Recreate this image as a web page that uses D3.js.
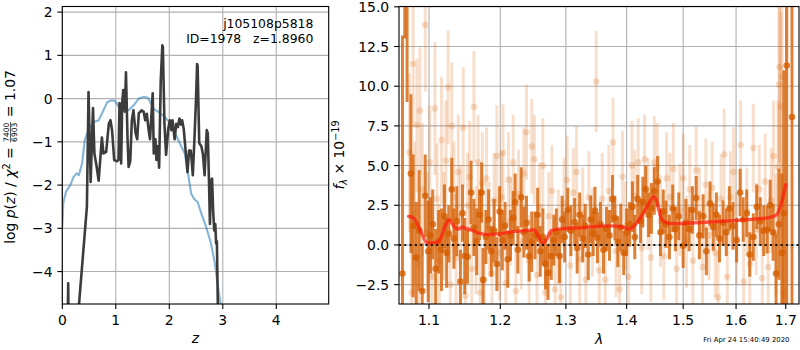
<!DOCTYPE html>
<html>
<head>
<meta charset="utf-8">
<script src="https://cdn.jsdelivr.net/npm/d3@7"></script>
<style>
  body { margin: 0; background: #fff; }
  text { font-family: "DejaVu Sans", sans-serif; }
</style>
</head>
<body>
<svg id="chart" width="800" height="350"></svg>
<script>
// ---- left panel: log p(z) (dark) and prior / chi2 curve (blue)
var pzZ = [0.095, 0.11, 0.125, 0.29, 0.46, 0.49, 0.53, 0.574, 0.60, 0.64, 0.68, 0.74, 0.77, 0.82, 0.87, 0.90, 0.93, 0.97, 1.02, 1.05, 1.07, 1.10, 1.12, 1.14, 1.17, 1.19, 1.22, 1.24, 1.27, 1.30, 1.33, 1.37, 1.40, 1.43, 1.48, 1.52, 1.55, 1.58, 1.61, 1.64, 1.66, 1.69, 1.71, 1.74, 1.76, 1.79, 1.81, 1.84, 1.87, 1.88, 1.91, 1.94, 1.98, 2.01, 2.04, 2.06, 2.10, 2.13, 2.16, 2.19, 2.22, 2.24, 2.27, 2.31, 2.34, 2.37, 2.40, 2.42, 2.44, 2.47, 2.50, 2.52, 2.53, 2.56, 2.60, 2.63, 2.66, 2.70, 2.72, 2.74, 2.76, 2.78, 2.80, 2.82, 2.84, 2.86, 2.875, 2.89, 2.91];
var pzLogP = [-6, -4.27, -6, -5.1, -2.5, 0.15, -1.93, -0.22, -1.27, -1.56, -1.9, -0.9, -1.27, -1.23, -0.58, -0.5, -0.73, -1.42, -1.45, -1.42, -0.1, -1.5, -0.1, 0.2, -0.3, 0.61, -0.94, -1.58, -1.45, -0.5, -0.27, -0.8, -0.94, -0.34, -0.27, -0.3, -0.5, -0.35, -0.69, -0.94, -0.5, 0.12, -1.27, -0.94, -1.42, -1.1, -1.6, 0.4, 1.23, 1.2, -0.6, -1.3, -0.7, -0.5, -0.73, -0.5, -0.94, -0.58, -0.66, -0.46, -0.6, -0.5, -0.7, -1.27, -1.7, -1.2, -1.2, -1.45, -1.77, -0.94, 0.0, 0.8, 0.75, -1.03, -1.1, -1.3, -1.77, -0.73, -0.8, -1.8, -2.9, -1.9, -1.85, -2.6, -3.05, -2.9, -3.35, -3.3, -5.0];
var chiZ = [0, 0.02, 0.07, 0.15, 0.21, 0.27, 0.31, 0.37, 0.42, 0.49, 0.59, 0.68, 0.77, 0.84, 0.93, 0.99, 1.05, 1.15, 1.24, 1.33, 1.43, 1.52, 1.60, 1.66, 1.72, 1.79, 1.91, 2.04, 2.16, 2.29, 2.35, 2.41, 2.47, 2.53, 2.60, 2.69, 2.78, 2.85, 2.91, 2.96, 2.98];
var chiLogP = [-2.97, -2.4, -2.15, -2.0, -1.81, -1.73, -1.77, -1.5, -0.96, -0.72, -0.54, -0.5, -0.27, -0.08, -0.04, -0.06, -0.18, -0.2, -0.27, -0.16, 0.0, 0.04, 0.02, -0.12, -0.25, -0.3, -0.42, -0.6, -0.94, -1.27, -1.73, -2.2, -2.33, -2.39, -2.66, -2.97, -3.35, -3.8, -4.35, -4.75, -5.0];
var zTicks = [0, 1, 2, 3, 4];
var logpTicks = [2, 1, 0, -1, -2, -3, -4];

// ---- right panel: spectrum, two sets of points with error bars, and model
var lamLight = [1.074, 1.077, 1.079, 1.081, 1.084, 1.086, 1.088, 1.091, 1.095, 1.098, 1.101, 1.104, 1.108, 1.111, 1.114, 1.117, 1.120, 1.123, 1.126, 1.129, 1.131, 1.134, 1.137, 1.140, 1.143, 1.147, 1.150, 1.153, 1.156, 1.159, 1.162, 1.165, 1.168, 1.171, 1.174, 1.177, 1.180, 1.184, 1.188, 1.191, 1.195, 1.199, 1.202, 1.204, 1.208, 1.212, 1.215, 1.219, 1.223, 1.227, 1.231, 1.235, 1.239, 1.243, 1.247, 1.251, 1.255, 1.259, 1.264, 1.268, 1.273, 1.278, 1.283, 1.288, 1.292, 1.297, 1.302, 1.307, 1.312, 1.317, 1.322, 1.327, 1.332, 1.337, 1.343, 1.349, 1.354, 1.359, 1.364, 1.370, 1.377, 1.382, 1.388, 1.393, 1.398, 1.403, 1.409, 1.414, 1.420, 1.426, 1.431, 1.437, 1.442, 1.448, 1.453, 1.459, 1.465, 1.470, 1.476, 1.482, 1.488, 1.494, 1.500, 1.506, 1.512, 1.518, 1.524, 1.530, 1.536, 1.542, 1.548, 1.554, 1.560, 1.565, 1.571, 1.577, 1.583, 1.589, 1.595, 1.601, 1.609, 1.615, 1.621, 1.627, 1.634, 1.640, 1.646, 1.652, 1.658, 1.664, 1.670, 1.675, 1.680, 1.684, 1.686, 1.687, 1.690, 1.692, 1.695];
var fluxLight = [5.8, -3.0, 11.4, 2.0, 7.55, -1.2, 8.46, 3.5, 13.87, 0.8, 5.2, -2.0, 8.6, 2.9, -1.0, 6.6, 1.2, 5.3, 9.93, -2.5, 7.5, 3.0, -0.8, 4.6, 1.8, 7.4, -3.2, 2.5, 4.3, -1.5, 8.7, 0.3, 5.2, -3.0, 3.9, -2.2, 4.2, 1.0, -1.8, 2.8, 5.6, -0.5, 3.0, 5.8, -2.4, 4.1, 1.5, 5.2, -2.9, 3.2, 0.2, 4.5, 7.1, -1.0, 6.2, 5.4, -1.9, 2.4, 5.0, -3.0, 1.8, 3.4, -2.8, 0.5, -3.3, 2.6, 4.1, -1.3, 3.3, 4.6, -0.9, 2.0, -2.2, 3.0, 0.8, 10.3, -1.6, 2.9, -2.2, 3.4, 6.45, -0.4, -2.8, 4.3, 1.2, -2.0, 5.0, 3.1, 5.2, -0.2, 5.4, 2.6, -0.8, 5.2, 4.9, 1.5, -0.7, 4.2, 3.0, 4.8, -1.5, 2.2, 4.2, 0.2, 3.5, -1.0, 4.7, 2.0, -1.4, 3.8, 0.6, 3.6, -0.5, -3.3, 2.9, 5.7, -2.0, 3.0, 4.6, 0.4, 6.3, -2.3, 2.1, -1.2, 6.1, 1.0, 3.5, -2.1, 4.0, -1.4, 2.8, 5.6, 0.7, 4.9, 10.1, 11.2, 8.7, 10.6, -3.0];
var errLight = [5, 4.5, 4, 4.5, 4.2, 4, 4, 4.2, 4.2, 3.8, 3.6, 3.8, 4.2, 3.5, 3.6, 4.0, 3.4, 3.8, 3.6, 3.5, 4.0, 3.5, 3.4, 3.6, 3.2, 3.8, 3.4, 3.3, 3.5, 3.2, 3.5, 3.4, 3.0, 3.3, 3.2, 3.1, 3.2, 3.0, 3.2, 3.0, 3.2, 3.0, 2.9, 3.1, 3.0, 3.0, 2.8, 3.0, 3.0, 2.8, 3.0, 2.9, 3.0, 2.9, 3.0, 2.8, 3.0, 2.8, 3.0, 2.9, 2.8, 2.9, 2.8, 3.0, 2.8, 2.9, 2.8, 2.9, 2.8, 2.9, 2.8, 2.9, 2.8, 2.9, 2.8, 3.2, 2.8, 2.9, 2.8, 2.9, 2.8, 2.9, 2.8, 2.9, 2.8, 2.9, 2.8, 2.9, 2.8, 2.9, 2.8, 2.9, 2.8, 2.9, 2.8, 2.9, 2.8, 2.9, 2.8, 2.9, 2.8, 2.9, 2.8, 2.9, 2.8, 2.9, 2.8, 2.9, 2.8, 2.9, 2.8, 2.9, 2.8, 2.9, 2.8, 2.9, 2.8, 2.9, 2.8, 2.9, 2.8, 2.9, 2.8, 2.9, 2.8, 2.9, 2.8, 3.0, 3.0, 3.1, 3.3, 3.5, 3.8, 4.2, 5, 6, 6, 8, 6];

var lamDark = [1.065, 1.068, 1.071, 1.076, 1.079, 1.083, 1.087, 1.091, 1.095, 1.099, 1.102, 1.105, 1.109, 1.113, 1.117, 1.121, 1.124, 1.127, 1.131, 1.134, 1.138, 1.143, 1.146, 1.149, 1.153, 1.158, 1.162, 1.166, 1.170, 1.173, 1.175, 1.179, 1.183, 1.187, 1.191, 1.195, 1.199, 1.203, 1.207, 1.211, 1.215, 1.219, 1.222, 1.226, 1.231, 1.235, 1.239, 1.243, 1.247, 1.252, 1.256, 1.260, 1.264, 1.268, 1.272, 1.277, 1.281, 1.285, 1.290, 1.294, 1.298, 1.303, 1.308, 1.314, 1.318, 1.322, 1.327, 1.331, 1.336, 1.340, 1.344, 1.347, 1.351, 1.356, 1.361, 1.366, 1.371, 1.376, 1.380, 1.385, 1.390, 1.395, 1.400, 1.405, 1.410, 1.414, 1.419, 1.424, 1.428, 1.433, 1.438, 1.443, 1.448, 1.454, 1.459, 1.464, 1.469, 1.475, 1.481, 1.486, 1.492, 1.500, 1.505, 1.511, 1.517, 1.524, 1.530, 1.537, 1.543, 1.550, 1.556, 1.562, 1.568, 1.575, 1.581, 1.587, 1.594, 1.601, 1.608, 1.614, 1.621, 1.627, 1.634, 1.641, 1.648, 1.655, 1.662, 1.668, 1.674, 1.680, 1.686, 1.692, 1.696, 1.702, 1.713];
var fluxDark = [-1.8, 20, 17, 4.5, 1.2, -0.8, 0.9, -2.9, 3.1, -0.4, 0.6, 1.3, -1.5, 0.2, -0.3, 1.8, -0.5, 0.7, 3.5, 0.4, 1.5, -2.3, 2.0, -0.7, -0.75, 3.3, 1.1, 0.2, 1.9, 3.3, -2.2, 0.5, 1.6, -0.4, 0.9, -1.2, 2.1, 0.3, 1.2, -0.9, 0.6, 1.7, 2.7, -0.3, 3.0, 0.8, 1.4, -0.7, 0.2, 0.6, 1.9, -0.4, 0.5, -1.2, -1.76, -0.7, 0.3, 0.8, -0.7, 1.6, 0.5, 2.2, 0.9, 1.45, -0.2, 1.9, 0.4, 1.2, -0.6, 1.6, 0.7, 2.16, 0.45, 1.3, -0.3, 1.0, 0.6, 2.9, 1.7, 0.2, 1.1, -0.5, 0.8, 1.3, 2.4, 0.5, 2.9, 1.5, 2.7, 3.5, 1.9, 2.3, 3.4, 4.0, 0.8, 2.1, 1.3, 0.5, 2.3, 1.0, 1.8, -0.05, 1.4, 1.0, 2.2, 2.95, 0.6, 1.8, -0.4, 2.6, 1.13, 1.9, 0.4, 1.4, 0.8, 2.3, 1.2, 0.3, 3.3, 1.6, 2.0, -0.6, 0.5, 2.4, 1.5, 0.9, 0.96, 2.5, 0.8, -1.8, 1.3, -0.5, 2.0, 11.3, 8.06];
var errDark = [15, 7, 8, 5.0, 4.5, 3.5, 3.8, 3.0, 2.6, 3.2, 2.4, 2.2, 2.5, 2.0, 2.6, 2.0, 2.2, 1.8, 2.0, 1.9, 2.2, 2.0, 1.8, 2.4, 1.7, 2.0, 1.8, 2.1, 1.6, 1.9, 2.0, 1.7, 1.9, 1.6, 2.0, 1.7, 1.6, 1.9, 1.5, 1.8, 1.6, 1.7, 1.8, 1.5, 1.9, 1.6, 1.7, 1.6, 1.9, 1.5, 1.7, 1.6, 1.8, 1.6, 1.7, 1.5, 1.6, 1.5, 1.7, 1.5, 1.6, 1.4, 1.6, 1.5, 1.6, 1.4, 1.5, 1.4, 1.6, 1.5, 1.4, 1.5, 1.6, 1.4, 1.5, 1.4, 1.6, 1.5, 1.4, 1.6, 1.5, 1.4, 1.5, 1.4, 1.6, 1.4, 1.5, 1.4, 1.6, 1.5, 1.4, 1.6, 1.5, 1.6, 1.5, 1.4, 1.5, 1.4, 1.5, 1.4, 1.5, 1.4, 1.5, 1.4, 1.5, 1.4, 1.5, 1.4, 1.5, 1.4, 1.5, 1.4, 1.5, 1.4, 1.5, 1.4, 1.5, 1.4, 1.5, 1.4, 1.5, 1.4, 1.5, 1.4, 1.5, 1.6, 1.5, 1.6, 1.8, 2.5, 3.5, 5, 9, 20, 18];

var modelLam = [1.073, 1.079, 1.086, 1.093, 1.097, 1.104, 1.111, 1.115, 1.120, 1.125, 1.128, 1.131, 1.136, 1.141, 1.145, 1.150, 1.157, 1.169, 1.183, 1.193, 1.203, 1.212, 1.224, 1.244, 1.251, 1.256, 1.264, 1.270, 1.277, 1.295, 1.327, 1.338, 1.371, 1.393, 1.405, 1.413, 1.427, 1.439, 1.448, 1.454, 1.460, 1.466, 1.481, 1.512, 1.574, 1.640, 1.670, 1.681, 1.691, 1.700];
var modelFlux = [1.80, 1.72, 1.17, 0.44, 0.13, 0.13, 0.17, 0.33, 0.96, 1.49, 1.59, 1.38, 1.07, 1.00, 1.13, 1.05, 0.96, 0.75, 0.65, 0.68, 0.72, 0.80, 0.86, 0.92, 0.96, 0.65, 0.12, 0.38, 0.90, 1.03, 1.09, 1.13, 1.20, 1.13, 1.00, 1.20, 1.90, 2.64, 3.06, 2.54, 1.70, 1.46, 1.34, 1.38, 1.49, 1.64, 1.75, 1.90, 2.64, 3.80];
var lamTicks = [1.1, 1.2, 1.3, 1.4, 1.5, 1.6, 1.7];
var fluxTicks = [-2.5, 0, 2.5, 5, 7.5, 10, 12.5, 15];

var svg = d3.select("#chart");
svg.append("rect").attr("width", 800).attr("height", 350).attr("fill", "#fff");

var tickFont = 13.9, gridCol = "#b0b0b0", tickLen = 4.9;

// Set the bounds for the two panels
var L = {x0: 62.3, x1: 328.7, y0: 6.5, y1: 304};
var R = {x0: 399, x1: 799, y0: 6.5, y1: 304};

var xz = d3.scaleLinear().domain([0, 4.98]).range([L.x0, L.x1]);
var yz = d3.scaleLinear().domain([-4.75, 2.13]).range([L.y1, L.y0]);
var xl = d3.scaleLog().domain([1.0605, 1.7277]).range([R.x0, R.x1]);
var yf = d3.scaleLinear().domain([-3.72, 15.02]).range([R.y1, R.y0]);

var defs = svg.append("defs");
[["clipL", L], ["clipR", R]].forEach(function (c) {
  defs.append("clipPath").attr("id", c[0]).append("rect")
    .attr("x", c[1].x0).attr("y", c[1].y0)
    .attr("width", c[1].x1 - c[1].x0).attr("height", c[1].y1 - c[1].y0);
});

function drawGrid(b, xs, ys, xt, yt) {
  var g = svg.append("g");
  xt.forEach(function (t) {
    g.append("line").attr("x1", xs(t)).attr("x2", xs(t)).attr("y1", b.y0).attr("y2", b.y1)
      .attr("stroke", gridCol).attr("stroke-width", 1.1);
  });
  yt.forEach(function (t) {
    g.append("line").attr("x1", b.x0).attr("x2", b.x1).attr("y1", ys(t)).attr("y2", ys(t))
      .attr("stroke", gridCol).attr("stroke-width", 1.1);
  });
}

function drawAxes(b, xs, ys, xt, yt, xfmt, yfmt) {
  var g = svg.append("g");
  xt.forEach(function (t) {
    g.append("line").attr("x1", xs(t)).attr("x2", xs(t)).attr("y1", b.y1).attr("y2", b.y1 + tickLen)
      .attr("stroke", "#000").attr("stroke-width", 1.1);
    g.append("text").attr("x", xs(t)).attr("y", 325).attr("text-anchor", "middle")
      .attr("font-size", tickFont).text(xfmt(t));
  });
  yt.forEach(function (t) {
    g.append("line").attr("x1", b.x0 - tickLen).attr("x2", b.x0).attr("y1", ys(t)).attr("y2", ys(t))
      .attr("stroke", "#000").attr("stroke-width", 1.1);
    g.append("text").attr("x", b.x0 - tickLen - 4.9).attr("y", ys(t) + 5).attr("text-anchor", "end")
      .attr("font-size", tickFont).text(yfmt(t));
  });
  g.append("rect").attr("x", b.x0).attr("y", b.y0)
    .attr("width", b.x1 - b.x0).attr("height", b.y1 - b.y0)
    .attr("fill", "none").attr("stroke", "#000").attr("stroke-width", 1.1);
}

// ---------- left panel
drawGrid(L, xz, yz, zTicks, logpTicks);
var gl = svg.append("g").attr("clip-path", "url(#clipL)");
var lineZ = d3.line().x(function (d) { return xz(d[0]); }).y(function (d) { return yz(d[1]); });
gl.append("path").datum(d3.zip(chiZ, chiLogP)).attr("d", lineZ)
  .attr("fill", "none").attr("stroke", "#1f77b4").attr("stroke-opacity", 0.55)
  .attr("stroke-width", 2.1).attr("stroke-linejoin", "round");
gl.append("path").datum(d3.zip(pzZ, pzLogP)).attr("d", lineZ)
  .attr("fill", "none").attr("stroke", "#3c3c3c").attr("stroke-width", 2.6)
  .attr("stroke-linejoin", "round");
drawAxes(L, xz, yz, zTicks, logpTicks, d3.format("d"), d3.format("d"));

svg.append("text").attr("x", 313.3).attr("y", 28).attr("text-anchor", "end")
  .attr("font-size", 12.4).text("j105108p5818");
svg.append("text").attr("x", 313.3).attr("y", 42.7).attr("text-anchor", "end")
  .attr("font-size", 12.4).text("ID=1978\u00a0\u00a0\u00a0z=1.8960");

svg.append("text").attr("x", 195.5).attr("y", 343).attr("text-anchor", "middle")
  .attr("font-size", tickFont).attr("font-style", "italic").text("z");

// y label with fraction
var yl = svg.append("g").attr("transform", "translate(15,157) rotate(-90)");
var yli = yl.append("g");
var t1 = yli.append("text").attr("font-size", tickFont);
t1.append("tspan").text("log\u00a0");
t1.append("tspan").attr("font-style", "italic").text("p");
t1.append("tspan").text("(");
t1.append("tspan").attr("font-style", "italic").text("z");
t1.append("tspan").text(")\u00a0/\u00a0");
t1.append("tspan").attr("font-style", "italic").text("χ");
t1.append("tspan").attr("font-size", 9.7).attr("dy", -5.5).text("2");
t1.append("tspan").attr("dy", 5.5).text("\u00a0=\u00a0");
var w1 = t1.node().getComputedTextLength();
var num = yli.append("text").attr("font-size", 7.6).attr("y", -6).text("7400");
var den = yli.append("text").attr("font-size", 7.6).attr("y", 2.4).text("6903");
var fw = Math.max(num.node().getComputedTextLength(), den.node().getComputedTextLength());
num.attr("x", w1 + 1);
den.attr("x", w1 + 1);
yli.append("line").attr("x1", w1 + 0.5).attr("x2", w1 + fw + 1.5).attr("y1", -4.4).attr("y2", -4.4)
  .attr("stroke", "#000").attr("stroke-width", 0.7);
var t2 = yli.append("text").attr("font-size", tickFont).attr("x", w1 + fw + 2)
  .text("\u00a0=\u00a01.07");
var total = w1 + fw + 2 + t2.node().getComputedTextLength();
yli.attr("transform", "translate(" + (-total / 2) + ",0)");

// ---------- right panel
drawGrid(R, xl, yf, lamTicks, fluxTicks);
var gr = svg.append("g").attr("clip-path", "url(#clipR)");
var orange = "#d55e00";

function drawPoints(lam, flux, err, alpha) {
  lam.forEach(function (l, i) {
    gr.append("line").attr("x1", xl(l)).attr("x2", xl(l))
      .attr("y1", yf(flux[i] - err[i])).attr("y2", yf(flux[i] + err[i]))
      .attr("stroke", orange).attr("stroke-opacity", alpha).attr("stroke-width", 3);
  });
  lam.forEach(function (l, i) {
    gr.append("circle").attr("cx", xl(l)).attr("cy", yf(flux[i])).attr("r", 3.3)
      .attr("fill", orange).attr("fill-opacity", alpha);
  });
}
drawPoints(lamLight, fluxLight, errLight, 0.2);
drawPoints(lamDark, fluxDark, errDark, 0.78);

var lineM = d3.line().curve(d3.curveMonotoneX)
  .x(function (d) { return xl(d[0]); }).y(function (d) { return yf(d[1]); });
gr.append("path").datum(d3.zip(modelLam, modelFlux)).attr("d", lineM)
  .attr("fill", "none").attr("stroke", "#ff1a0a").attr("stroke-opacity", 0.7)
  .attr("stroke-width", 3.4).attr("stroke-linejoin", "round").attr("stroke-linecap", "round");

gr.append("line").attr("x1", R.x0).attr("x2", R.x1).attr("y1", yf(0)).attr("y2", yf(0))
  .attr("stroke", "#111").attr("stroke-width", 2).attr("stroke-dasharray", "2,3.3");

drawAxes(R, xl, yf, lamTicks, fluxTicks, d3.format(".1f"), d3.format(".1f"));

svg.append("text").attr("x", 599).attr("y", 344).attr("text-anchor", "middle")
  .attr("font-size", tickFont).attr("font-style", "italic").text("λ");

var yr = svg.append("g").attr("transform", "translate(344,155) rotate(-90)");
var tr = yr.append("text").attr("font-size", tickFont).attr("text-anchor", "middle");
tr.append("tspan").attr("font-style", "italic").text("f");
tr.append("tspan").attr("font-size", 9.7).attr("font-style", "italic").attr("dy", 3).text("λ");
tr.append("tspan").attr("dy", -3).text("\u00a0×\u00a010");
tr.append("tspan").attr("font-size", 9.7).attr("dy", -5.5).text("−19");

svg.append("text").attr("x", 703.3).attr("y", 342).attr("font-size", 6.9)
  .text("Fri Apr 24 15:40:49 2020");
</script>
</body>
</html>
